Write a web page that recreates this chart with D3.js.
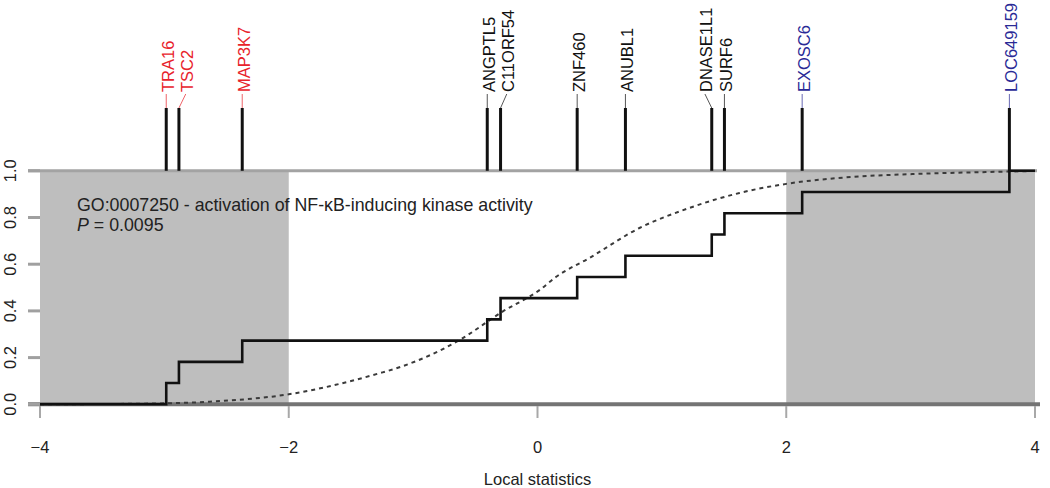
<!DOCTYPE html>
<html>
<head>
<meta charset="utf-8">
<script src="https://cdn.jsdelivr.net/npm/d3@7/dist/d3.min.js"></script>
<style>
  html, body { margin: 0; padding: 0; background: #fff; }
  svg { display: block; font-family: "Liberation Sans", Arial, Helvetica, sans-serif; }
</style>
</head>
<body>
<svg id="chart" width="1050" height="488"></svg>
<script>
// ---- data ----
const genes = ["TRA16", "TSC2", "MAP3K7", "ANGPTL5", "C11ORF54", "ZNF460", "ANUBL1", "DNASE1L1", "SURF6", "EXOSC6", "LOC649159"];
const geneStats = [-2.985, -2.883, -2.374, -0.404, -0.297, 0.319, 0.707, 1.401, 1.503, 2.128, 3.794];
const geneGroup = ["down", "down", "down", "mid", "mid", "mid", "mid", "mid", "mid", "up", "up"];
// null (reference) cumulative distribution
const nullX = [-4.0, -3.12, -2.64, -2.0, -1.27, -1.136, -0.627, -0.281, 0.016, 0.150, 0.418, 0.820, 1.222, 1.624, 2.0, 2.484, 3.014, 3.553, 4.0];
const nullY = [0.0, 0.003, 0.011, 0.043, 0.133, 0.154, 0.275, 0.397, 0.489, 0.546, 0.627, 0.755, 0.841, 0.905, 0.944, 0.972, 0.986, 0.994, 0.999];
const xTicks = [-4, -2, 0, 2, 4];
const yTicks = [0, 0.2, 0.4, 0.6, 0.8, 1.0];
const shadeRanges = [[-4, -2], [2, 4]];
const title = "GO:0007250 - activation of NF-\u03BAB-inducing kinase activity";
const pLabel = "0.0095";
const xTitle = "Local statistics";

// ---- layout ----
const svg = d3.select("#chart");
const x = d3.scaleLinear().domain([-4, 4]).range([40, 1035]);
const y = d3.scaleLinear().domain([0, 1]).range([404.3, 170.8]);
const groupColor = { down: "#e8232b", mid: "#111111", up: "#2a2a96" };
const fontSize = 16.5;

// shaded regions
svg.selectAll("rect.shade").data(shadeRanges).join("rect")
  .attr("class", "shade")
  .attr("x", d => x(d[0])).attr("width", d => x(d[1]) - x(d[0]))
  .attr("y", y(1)).attr("height", y(0) - y(1))
  .attr("fill", "#bebebe");

// horizontal reference lines at 1 and 0
svg.append("line").attr("x1", 28).attr("x2", 1037).attr("y1", y(1)).attr("y2", y(1))
  .attr("stroke", "#a3a3a3").attr("stroke-width", 3);
svg.append("line").attr("x1", 28).attr("x2", 1040).attr("y1", y(0)).attr("y2", y(0))
  .attr("stroke", "#747474").attr("stroke-width", 4);

// y axis ticks & labels
const yAxis = svg.append("g");
yAxis.selectAll("line").data(yTicks).join("line")
  .attr("x1", 28).attr("x2", 40).attr("y1", d => y(d)).attr("y2", d => y(d))
  .attr("stroke", "#a0a0a0").attr("stroke-width", 3);
yAxis.selectAll("text").data(yTicks).join("text")
  .attr("transform", d => `translate(16,${y(d)}) rotate(-90)`)
  .attr("text-anchor", "middle")
  .attr("font-size", fontSize).attr("fill", "#222")
  .text(d => d3.format(".1f")(d));

// x axis ticks & labels
const xAxis = svg.append("g");
xAxis.selectAll("line").data(xTicks).join("line")
  .attr("x1", d => x(d)).attr("x2", d => x(d)).attr("y1", 406).attr("y2", 418)
  .attr("stroke", "#a8a8a8").attr("stroke-width", 2);
xAxis.selectAll("text").data(xTicks).join("text")
  .attr("x", d => x(d)).attr("y", 452.5)
  .attr("text-anchor", "middle")
  .attr("font-size", fontSize).attr("fill", "#222")
  .text(d => d < 0 ? "\u2212" + Math.abs(d) : String(d));
svg.append("text").attr("x", x(0)).attr("y", 485)
  .attr("text-anchor", "middle").attr("font-size", fontSize).attr("fill", "#222")
  .text(xTitle);

// dashed null CDF
const nullPts = nullX.map((v, i) => [v, nullY[i]]);
svg.append("path").datum(nullPts)
  .attr("d", d3.line().x(d => x(d[0])).y(d => y(d[1])).curve(d3.curveMonotoneX))
  .attr("fill", "none").attr("stroke", "#3a3a3a").attr("stroke-width", 2)
  .attr("stroke-dasharray", "4,4");

// empirical step CDF
const n = geneStats.length;
const stepPts = [[-4, 0]].concat(geneStats.map((v, i) => [v, (i + 1) / n]), [[4, 1]]);
svg.append("path").datum(stepPts)
  .attr("d", d3.line().x(d => x(d[0])).y(d => y(d[1])).curve(d3.curveStepAfter))
  .attr("fill", "none").attr("stroke", "#111").attr("stroke-width", 2.6);

// gene barcode bars
const barTop = 108, connTop = 94, labelBase = 92, minGap = 19.5;
svg.selectAll("line.bar").data(geneStats).join("line")
  .attr("class", "bar")
  .attr("x1", d => x(d)).attr("x2", d => x(d)).attr("y1", y(1)).attr("y2", barTop)
  .attr("stroke", "#111").attr("stroke-width", 3);

// label placement: sweep outward from the centre to avoid overlaps
const barX = geneStats.map(d => x(d));
const labX = barX.slice();
const mid = x(0);
for (let i = 1; i < n; i++) {
  if (barX[i] < mid && labX[i] - labX[i - 1] < minGap) labX[i] = labX[i - 1] + minGap;
}
for (let i = n - 2; i >= 0; i--) {
  if (barX[i] >= mid && labX[i + 1] - labX[i] < minGap) labX[i] = labX[i + 1] - minGap;
}

const labels = genes.map((g, i) => ({ g, bx: barX[i], lx: labX[i], c: groupColor[geneGroup[i]] }));
svg.selectAll("line.conn").data(labels).join("line")
  .attr("class", "conn")
  .attr("x1", d => d.bx).attr("y1", barTop).attr("x2", d => d.lx).attr("y2", connTop)
  .attr("stroke", d => d.c).attr("stroke-width", 1).attr("opacity", 0.7);
svg.selectAll("text.gene").data(labels).join("text")
  .attr("class", "gene")
  .attr("transform", d => `translate(${d.lx + 1.5},${labelBase}) rotate(-90)`)
  .attr("text-anchor", "start").attr("dominant-baseline", "central")
  .attr("font-size", fontSize).attr("fill", d => d.c)
  .text(d => d.g);

// annotation
svg.append("text").attr("x", 77).attr("y", 211).attr("font-size", 17.8).attr("fill", "#222").text(title);
const pt = svg.append("text").attr("x", 77).attr("y", 231).attr("font-size", 17.8).attr("fill", "#222");
pt.append("tspan").attr("font-style", "italic").text("P");
pt.append("tspan").text(" = " + pLabel);
</script>
</body>
</html>
